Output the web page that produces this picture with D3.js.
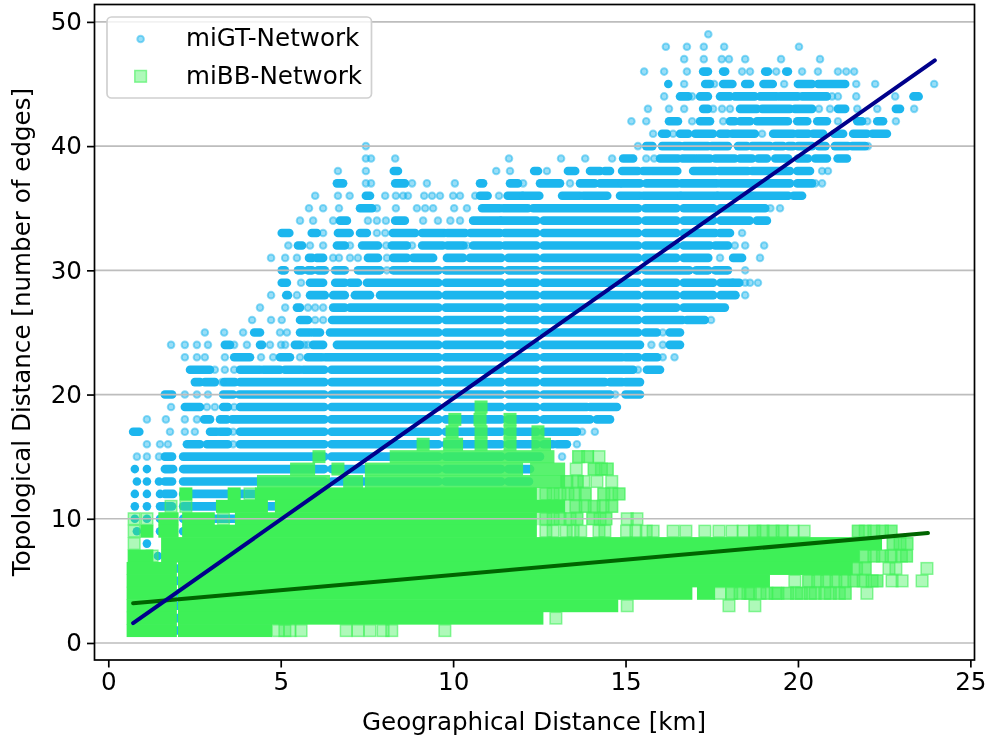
<!DOCTYPE html>
<html><head><meta charset="utf-8">
<style>html,body{margin:0;padding:0;background:#fff}svg{display:block;filter:blur(0.4px)}text{font-family:"DejaVu Sans",sans-serif;fill:#000}</style>
<script src="https://cdn.jsdelivr.net/npm/d3@7"></script>
</head><body><div id="chart"></div>
<script>
// Each row: a number is one point, a pair is a dense stretch of overlapping points (km).
const gtLevels=[49,48,47,46,45,44,43,42,41,40,39,38,37,36,35,34,33,32,31,30,29,28,27,26,25,24,23,22,21,20,19,18,17,16,15,14,13,12,11,10,9,8,7,6,5,4,3,2,1];
const gtRuns=[
[17.4],
[16.17,16.78,17.27,17.86,20.03],
[16.7,17.27,17.79,18.0,18.47,19.51,20.64],
[15.54,16.12,16.78,[17.25,17.39],[17.83,17.89],18.38,18.61,[19.05,19.13],19.37,[19.66,19.71],20.12,20.58,21.16,21.4,21.63],
[[16.24,16.24],16.7,[17.31,17.45],17.57,[17.83,18.1],[18.47,18.61],[19.0,19.27],19.6,[20.0,20.41],[20.58,21.37],21.69,22.24,23.95],
[16.12,[16.58,16.82],16.93,[17.16,17.39],[17.74,18.03],[18.17,18.75],[18.9,19.39],[19.48,20.0],[20.12,20.84],20.99,21.16,21.69,22.82,[23.35,23.5]],
[15.65,16.26,16.7,[17.25,17.39],17.54,17.8,18.03,[18.32,18.81],[18.96,19.77],[19.91,20.41],20.61,20.93,[21.16,21.37],21.72,22.3,[22.84,22.96],23.37],
[15.17,15.6,[16.26,16.52],16.93,[17.16,17.45],17.83,[18.03,18.17],[18.32,18.61],[18.81,19.71],[19.98,20.27],[20.56,20.84],21.16,[21.72,21.86],22.01,[22.3,22.47],22.84],
[15.8,[16.06,16.2],16.38,[16.58,16.82],[17.02,17.54],[17.74,17.97],[18.09,18.75],18.96,[19.28,19.86],[19.98,20.3],[20.44,20.73],[21.05,21.31],[21.6,22.0],[22.16,22.58]],
[7.47,15.36,[15.6,15.78],[16.06,16.58],[16.7,17.39],[17.5,17.97],[18.26,18.52],[18.67,19.19],[19.34,19.57],[19.72,19.86],[20.0,20.41],[20.6,20.8],[21.07,21.45],[21.57,21.95],22.03],
[7.47,7.62,8.32,11.62,13.13,13.83,14.61,[14.93,15.22],15.6,15.83,[16.0,16.52],[16.65,17.02],[17.1,17.45],[17.6,18.17],[18.32,18.67],[18.85,19.1],[19.34,19.72],[20.0,20.29],[20.5,20.84],[21.15,21.42]],
[6.66,7.47,[8.28,8.4],11.25,11.65,[12.35,12.46],12.72,[13.33,13.54],[13.97,14.26],[14.4,14.55],[14.9,15.36],[15.51,15.72],[15.77,16.5],[16.96,17.6],[17.72,18.55],[18.67,19.77],[19.98,20.35],20.7,20.87],
[[6.63,6.81],7.47,7.62,[8.32,8.6],8.81,9.24,10.05,[10.78,10.87],[11.65,11.88],12.03,[12.52,13.1],13.39,[13.68,14.11],[14.26,14.84],[14.9,15.42],[15.6,16.5],[16.62,17.65],[17.75,19.77],[19.98,20.41],20.5,20.7],
[6.0,6.66,7.0,[7.47,7.59],8.03,8.34,8.55,8.69,9.16,9.39,9.62,10.0,10.2,10.64,[10.78,11.0],11.33,[11.58,12.0],[12.03,12.5],[13.16,13.68],[13.77,14.47],[14.84,15.42],[15.51,16.58],[16.62,17.65],[17.68,19.72],[19.87,20.12]],
[5.82,6.23,6.69,[7.3,7.65],7.79,8.34,8.95,9.19,9.42,10.03,10.4,[10.84,11.36],[11.45,12.17],[12.32,19.05],19.2,19.48],
[5.56,5.94,6.52,[6.72,6.92],7.53,7.79,8.05,[8.32,8.6],9.13,9.56,9.92,10.2,[10.58,11.36],[11.4,18.6],[18.81,19.1]],
[[5.03,5.25],[5.9,6.05],6.23,[6.66,7.0],[7.3,7.5],7.79,8.03,[8.25,8.9],[9.1,9.75],[9.83,10.35],[10.5,11.36],[11.5,17.6],[17.74,18.03],18.38],
[5.22,[5.5,5.62],5.85,6.23,[6.63,6.86],7.01,[7.36,7.82],8.06,[8.22,8.66],8.81,[9.1,9.7],[9.83,10.3],10.4,[10.58,11.36],[11.5,17.45],[17.6,17.97],18.17,18.47,19.02],
[4.72,5.13,5.47,[5.82,5.91],[6.05,6.23],6.52,6.69,7.01,7.24,[7.53,7.82],8.08,[8.26,8.66],[8.84,9.42],[9.82,10.29],[10.49,17.4],17.74,[18.12,18.38],18.9],
[[5.03,5.12],[5.5,5.62],[5.79,5.91],[6.08,6.28],[6.58,6.86],[7.24,7.88],8.08,[8.26,16.85],[17.05,17.4],[17.6,17.97],18.47],
[[5.03,5.18],5.59,[5.85,6.23],[6.58,6.86],[7.01,7.24],[7.5,18.1],[18.12,18.3],18.47,18.61,18.84],
[4.72,[5.16,5.21],5.47,[5.85,6.28],[6.52,6.86],[7.15,7.59],[7.88,18.19],18.47],
[4.4,5.13,[5.47,5.56],5.79,6.0,6.23,[6.52,6.86],[7.01,17.88]],
[4.17,4.72,5.03,[5.56,5.79],6.0,6.23,[6.49,16.65],[16.78,17.3],17.48],
[2.8,3.36,3.91,[4.23,4.4],4.98,5.18,[5.56,5.85],[5.94,6.14],[6.43,15.91],16.08,[16.28,16.58]],
[1.82,2.22,2.57,2.89,[3.38,3.53],3.65,4.02,[4.4,4.46],4.69,5.01,5.13,[5.41,5.56],5.68,5.79,[5.94,6.23],[6.63,15.42],15.75,16.08,[16.28,16.58]],
[2.22,2.57,2.8,3.38,[3.65,4.11],4.43,4.78,[4.98,5.27],5.56,[5.79,6.2],[6.29,14.9],[15.0,15.92],16.08,16.42],
[[2.37,2.95],3.09,3.38,3.65,[3.82,4.4],[4.49,4.98],[5.12,5.56],[5.65,15.22],15.36,[15.62,16.0]],
[[2.51,2.66],[2.8,3.09],3.3,[3.36,3.67],[3.82,14.4],[14.55,14.9],[15.0,15.42]],
[[1.64,1.85],2.22,2.57,2.89,[3.33,3.62],[3.8,14.55],14.7,[15.0,15.42]],
[1.82,[2.22,2.66],2.86,3.09,[3.33,3.47],3.65,[3.82,13.88],[13.97,14.75]],
[1.12,1.67,2.22,2.57,[2.78,2.95],[3.24,3.44],[3.59,13.97],[14.17,14.55]],
[[0.72,0.9],1.79,2.22,2.51,[2.95,3.15],[3.24,3.47],3.62,[3.82,13.59],13.74,14.11],
[1.12,1.5,1.73,[2.28,2.66],[2.86,3.47],3.62,[3.82,12.9],[13.01,13.3],13.59],
[0.83,1.12,1.47,[1.64,1.85],[2.17,12.52],13.16],
[[0.77,0.77],[1.12,1.12],[1.64,1.88],[2.17,12.23]],
[[0.83,0.83],[1.12,1.12],[1.47,1.47],[1.64,1.85],[2.17,12.2]],
[[0.77,0.77],[1.12,1.12],[1.5,1.5],[1.64,1.88],[2.17,12.2]],
[[0.77,0.77],[1.12,1.12],[1.5,1.85],[2.17,12.2]],
[[0.77,0.77],[1.12,1.12],[1.5,1.85],[2.17,12.2]],
[[0.83,0.83],[1.12,1.12],[1.5,1.85],[2.17,12.2]],
[[1.12,1.12],[1.72,12.2]],
[[1.12,1.12],[1.44,1.44],[1.72,12]],
[[1.72,12]],[[1.72,12]],[[1.72,12]],[[1.72,12]],[[1.72,12]],[[1.72,4.4]]
];
const bbLevels=[19,18,17,16,15,14,13,12,11,10,9,8,7,6,5,4,3,2,1];
const bbRuns=[
[[10.81,10.81]],
[[10.05,10.05],[10.78,10.78],[11.65,11.65]],
[[9.97,9.97],[10.81,10.81],[11.65,11.65],[12.46,12.46]],
[[9.13,9.13],[9.9,10.1],[10.81,10.81],[11.65,11.65],[12.46,12.65]],
[[6.11,6.11],[8.35,12.75],13.64,13.9,14.23],
[[5.46,5.81],[6.66,6.66],[7.63,11.84],[12.42,13.06],13.57,14.09,14.3,14.47],
[[4.5,6.24],[7.0,7.2],[7.63,13.06],13.3,13.6,13.79,14.17,14.6],
[[2.25,2.25],[3.65,3.65],4.11,[4.44,12.24],12.69,12.9,13.1,13.33,13.54,13.83,14.37,14.6,14.81],
[1.82,2.25,[3.31,4.44],[5.02,13.06],13.56,13.83,14.09,14.35,14.6],
[0.75,1.12,[1.64,1.85],[2.33,2.9],3.34,[3.86,12.24],12.69,12.9,13.1,13.39,13.59,14.05,14.26,14.43,15.05,15.33],
[0.75,[1.12,1.12],[1.64,1.85],[2.33,12.24],12.69,12.9,13.28,13.48,13.7,14.23,14.4,15.03,15.3,15.6,15.8,16.38,16.75,17.3,17.71,18.09,18.41,18.75,18.99,19.28,19.54,19.86,20.18,21.75,21.95,22.2,22.45,22.7],
[0.75,[1.72,22.25],22.76,22.96,23.16],
[[0.75,1.12],1.27,[1.72,21.6],21.95,22.2,22.45,22.7,23.0,23.15],
[[0.72,1.8],[2.21,21.4],21.7,21.95,22.64,22.84,23.74],
[[0.72,1.8],[2.21,19.0],19.91,20.31,20.57,20.83,21.1,21.36,21.62,21.89,22.15,22.29,22.73,23.02,23.6],
[[0.72,1.8],[2.21,16.75],[17.26,17.41],17.74,18.08,18.32,18.55,18.62,18.9,19.1,19.34,19.42,19.7,19.96,20.1,20.36,20.5,20.78,20.94,21.2,21.37,22.0],
[[0.72,1.8],[2.21,14.6],15.05,18.0,18.75],
[[0.72,1.8],[2.21,12.43],12.98],
[[0.72,1.8],[2.21,4.56],4.92,5.12,5.27,5.59,6.9,7.24,7.59,7.97,8.22,9.76]
];
// Stretches where translucent squares overlap without merging: [level, from km, to km]
const bbThinRuns=[
[15,13.64,13.9],[14,14.09,14.47],[13,13.3,13.6],[12,12.5,13.83],[12,14.37,14.81],[11,13.4,14.6],
[10,12.5,13.59],[10,14.05,14.43],[9,18.75,19.54],[9,21.75,22.7],[8,22.76,23.16],[7,21.6,23.15],
[6,21.4,21.95],[5,20.31,22.29],[4,18.08,21.37]
];
const gtSeams=[6.37,9.68,11.5,12.52,15.47,16.58,17.65];
const gtFitX=[0.72,23.97], gtFitY=[1.6,46.9];
const bbFitX=[0.72,23.77], bbFitY=[3.2,8.85];
const xTicks=[0,5,10,15,20,25], yTicks=[0,10,20,30,40,50];
const legendLabels=["miGT-Network","miBB-Network"];
const xTitle="Geographical Distance [km]", yTitle="Topological Distance [number of edges]";

const W=987,H=740,L=94.5,R=974.5,T=4.5,B=660;
const blue="#1cb6ee",green="#3ef057",FS=24.6;
const x=d3.scaleLinear().domain([-0.4,25.12]).range([L,R]);
const y=d3.scaleLinear().domain([-1.37,51.4]).range([B,T]);
const svg=d3.select("#chart").append("svg").attr("width",W).attr("height",H);

function splitSeams(r){
  let out=[r];
  gtSeams.forEach(g=>{out=out.flatMap(([a,b])=>(a<g-0.3&&b>g+0.3)?[[a,g-0.105],[g+0.105,b]]:[[a,b]]);});
  return out;
}
const gtDense=[],gtPts=[];
gtRuns.forEach((row,i)=>row.forEach(e=>{
  if(Array.isArray(e)) splitSeams(e).forEach(r=>gtDense.push({l:gtLevels[i],a:r[0],b:r[1]}));
  else gtPts.push({l:gtLevels[i],v:e});
}));
const bbDense=[],bbPts=[];
bbRuns.forEach((row,i)=>row.forEach(e=>{
  if(Array.isArray(e)) bbDense.push({l:bbLevels[i],a:e[0],b:e[1]});
  else bbPts.push({l:bbLevels[i],v:e});
}));

const plot=svg.append("g");
plot.selectAll("line.gt").data(gtDense).join("line").attr("class","gt")
  .attr("x1",d=>x(d.a)).attr("x2",d=>x(d.b)).attr("y1",d=>y(d.l)).attr("y2",d=>y(d.l))
  .attr("stroke",blue).attr("stroke-width",8.6).attr("stroke-linecap","round");
plot.selectAll("circle.gt").data(gtPts).join("circle").attr("class","gt")
  .attr("cx",d=>x(d.v)).attr("cy",d=>y(d.l)).attr("r",3.3)
  .attr("fill",blue).attr("fill-opacity",0.45).attr("stroke",blue).attr("stroke-opacity",0.5).attr("stroke-width",2);
const hs=6.5;
plot.selectAll("rect.bbt").data(bbThinRuns).join("rect").attr("class","bbt")
  .attr("x",d=>x(d[1])-hs).attr("y",d=>y(d[0])-hs).attr("width",d=>x(d[2])-x(d[1])+2*hs).attr("height",2*hs)
  .attr("fill",green).attr("fill-opacity",0.45);
plot.selectAll("rect.bb").data(bbPts).join("rect").attr("class","bb")
  .attr("x",d=>x(d.v)-5.8).attr("y",d=>y(d.l)-5.8).attr("width",11.6).attr("height",11.6)
  .attr("fill",green).attr("fill-opacity",0.42).attr("stroke",green).attr("stroke-opacity",0.6).attr("stroke-width",1.5);
plot.selectAll("rect.bbd").data(bbDense).join("rect").attr("class","bbd")
  .attr("x",d=>x(d.a)-hs).attr("y",d=>y(d.l)-hs).attr("width",d=>x(d.b)-x(d.a)+2*hs).attr("height",2*hs)
  .attr("fill",green).attr("fill-opacity",d=>d.l>=13?0.86:1);

// grid on top of the scatter
svg.append("g").selectAll("line").data(yTicks).join("line")
  .attr("x1",L).attr("x2",R).attr("y1",d=>y(d)).attr("y2",d=>y(d))
  .attr("stroke","#bdbdbd").attr("stroke-width",1.7);

const fit=d3.line().x(d=>x(d[0])).y(d=>y(d[1]));
svg.append("path").attr("d",fit(d3.zip(bbFitX,bbFitY))).attr("stroke","#006400").attr("stroke-width",4).attr("stroke-linecap","round").attr("fill","none");
svg.append("path").attr("d",fit(d3.zip(gtFitX,gtFitY))).attr("stroke","#00008b").attr("stroke-width",4).attr("stroke-linecap","round").attr("fill","none");

// axes
const ax=svg.append("g").attr("transform",`translate(0,${B})`)
  .call(d3.axisBottom(x).tickValues(xTicks).tickSize(7.5).tickPadding(5).tickFormat(d3.format("d")));
const ay=svg.append("g").attr("transform",`translate(${L},0)`)
  .call(d3.axisLeft(y).tickValues(yTicks).tickSize(7.5).tickPadding(5).tickFormat(d3.format("d")));
[ax,ay].forEach(g=>{
  g.select(".domain").remove();
  g.selectAll("line").attr("stroke","#000").attr("stroke-width",1.7);
  g.selectAll("text").attr("font-size",FS).attr("font-family","DejaVu Sans").attr("fill","#000");
});
svg.append("rect").attr("x",L).attr("y",T).attr("width",R-L).attr("height",B-T).attr("fill","none").attr("stroke","#000").attr("stroke-width",1.7);

svg.append("text").attr("x",534).attr("y",730).attr("text-anchor","middle").attr("font-size",FS).text(xTitle);
svg.append("text").attr("transform","translate(30,332) rotate(-90)").attr("text-anchor","middle").attr("font-size",FS).text(yTitle);

// legend
const lg=svg.append("g");
lg.append("rect").attr("x",107).attr("y",17).attr("width",264.5).attr("height",81).attr("rx",4.5)
  .attr("fill","#fff").attr("fill-opacity",0.8).attr("stroke","#d0d0d0").attr("stroke-width",1.7);
lg.append("circle").attr("cx",140.6).attr("cy",39).attr("r",3.3).attr("fill",blue).attr("fill-opacity",0.45).attr("stroke",blue).attr("stroke-opacity",0.5).attr("stroke-width",2);
lg.append("rect").attr("x",134.8).attr("y",70.5).attr("width",11.6).attr("height",11.6).attr("fill",green).attr("fill-opacity",0.42).attr("stroke",green).attr("stroke-opacity",0.6).attr("stroke-width",1.5);
legendLabels.forEach((t,i)=>lg.append("text").attr("x",186).attr("y",46+i*37.5).attr("font-size",FS).text(t));
</script></body></html>
